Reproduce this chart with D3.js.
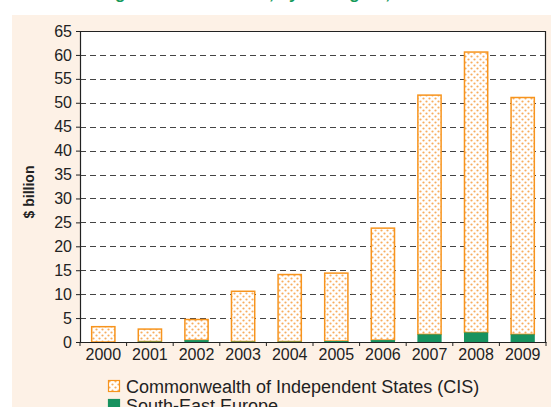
<!DOCTYPE html>
<html>
<head>
<meta charset="utf-8">
<script src="https://cdn.jsdelivr.net/npm/d3@7"></script>
<style>
  body { margin: 0; background: #fff; }
  svg { display: block; font-family: "Liberation Sans", Arial, sans-serif; }
</style>
</head>
<body>
<div id="chart"></div>
<script>
// data ($ billion)
const years = ["2000", "2001", "2002", "2003", "2004", "2005", "2006", "2007", "2008", "2009"];
const seeValues = [0.0, 0.1, 0.4, 0.1, 0.1, 0.2, 0.4, 1.6, 2.0, 1.6];       // South-East Europe
const cisValues = [3.2, 2.6, 4.3, 10.5, 14.0, 14.2, 23.4, 50.0, 58.6, 49.5]; // CIS, stacked on top
const yTicks = [0, 5, 10, 15, 20, 25, 30, 35, 40, 45, 50, 55, 60, 65];
const seriesNames = ["Commonwealth of Independent States (CIS)", "South-East Europe"];

const W = 551, H = 407;
const margin = {top: 31, right: 5, bottom: 65, left: 80};
const width = W - margin.left - margin.right;
const height = H - margin.top - margin.bottom;

const orange = "#f7941d";
const green = "#17925f";

const svg = d3.select("#chart").append("svg")
    .attr("width", W)
    .attr("height", H);

// pattern for CIS bars
const defs = svg.append("defs");
const pat = defs.append("pattern")
    .attr("id", "dots")
    .attr("patternUnits", "userSpaceOnUse")
    .attr("width", 6)
    .attr("height", 6);
pat.append("rect").attr("width", 6).attr("height", 6).attr("fill", "#fff");
pat.append("circle").attr("cx", 1.5).attr("cy", 1.5).attr("r", 1.1).attr("fill", "#f8ad5e");
pat.append("circle").attr("cx", 4.5).attr("cy", 4.5).attr("r", 1.1).attr("fill", "#f8ad5e");

// peach panel
svg.append("rect")
    .attr("x", 12).attr("y", 15)
    .attr("width", W - 12).attr("height", H - 15)
    .attr("fill", "#fdf1e6");

// title, almost entirely above the visible area (as in the source crop)
svg.append("text")
    .attr("x", 100).attr("y", -1)
    .style("fill", "#149a5a")
    .style("font-size", "17px")
    .style("font-weight", "bold")
    .text("Figure B. FDI inflows, by subregion, 2000–2009");

const g = svg.append("g")
    .attr("transform", `translate(${margin.left},${margin.top})`);

const x = d3.scaleBand()
    .domain(years)
    .range([0, width])
    .paddingInner(0.48)
    .paddingOuter(0.24);

const y = d3.scaleLinear()
    .domain([0, 65])
    .range([height, 0]);

// plot background
g.append("rect")
    .attr("width", width).attr("height", height)
    .attr("fill", "#fff");

// dashed gridlines
g.append("g")
    .selectAll("line")
    .data(yTicks.filter(d => d > 0 && d < 65))
    .join("line")
    .attr("x1", 0).attr("x2", width)
    .attr("y1", d => Math.round(y(d)) + 0.5)
    .attr("y2", d => Math.round(y(d)) + 0.5)
    .attr("stroke", "#444")
    .attr("stroke-width", 1.2)
    .attr("stroke-dasharray", "6,4");

// stacked bars
const stackData = years.map((yr, i) => ({year: yr, see: seeValues[i], cis: cisValues[i]}));

g.append("g")
    .selectAll("rect")
    .data(stackData)
    .join("rect")
    .attr("x", d => x(d.year) + 0.5)
    .attr("y", d => y(d.see + d.cis))
    .attr("width", x.bandwidth() - 1)
    .attr("height", d => y(d.see) - y(d.see + d.cis))
    .attr("fill", "url(#dots)")
    .attr("stroke", orange)
    .attr("stroke-width", 1.5);

g.append("g")
    .selectAll("rect")
    .data(stackData)
    .join("rect")
    .attr("x", d => x(d.year))
    .attr("y", d => y(d.see))
    .attr("width", x.bandwidth())
    .attr("height", d => y(0) - y(d.see))
    .attr("fill", green);

// top and right border
g.append("path")
    .attr("d", `M0,0.5H${width - 0.5}V${height}`)
    .attr("fill", "none")
    .attr("stroke", "#222")
    .attr("stroke-width", 1.2);

// axes
const yAxis = g.append("g")
    .call(d3.axisLeft(y).tickValues(yTicks).tickSize(4).tickPadding(4));
yAxis.select(".domain").attr("stroke", "#222").attr("stroke-width", 1.2);
yAxis.selectAll(".tick line").attr("stroke", "#222");
yAxis.selectAll("text")
    .style("font-size", "16px")
    .style("fill", "#222");

// bottom axis: ticks on the category boundaries
const bounds = d3.range(years.length + 1).map(i => i * width / years.length);
const xAxis = g.append("g")
    .attr("transform", `translate(0,${height})`)
    .call(d3.axisBottom(x).tickSize(0).tickPadding(7));
xAxis.select(".domain").attr("stroke", "#222").attr("stroke-width", 1.2);
xAxis.selectAll("text")
    .style("font-size", "16px")
    .style("fill", "#222");
xAxis.selectAll(".bound")
    .data(bounds)
    .join("line")
    .attr("class", "bound")
    .attr("x1", d => d).attr("x2", d => d)
    .attr("y1", 0).attr("y2", 4)
    .attr("stroke", "#222");

// y-axis title
svg.append("text")
    .attr("transform", "translate(34,192) rotate(-90)")
    .attr("text-anchor", "middle")
    .style("font-size", "14px")
    .style("font-weight", "bold")
    .style("fill", "#222")
    .text("$ billion");

// legend (second row runs off the bottom edge, as in the source)
const legend = svg.append("g").attr("transform", "translate(108,380)");
const items = legend.selectAll("g")
    .data(seriesNames)
    .join("g")
    .attr("transform", (d, i) => `translate(0,${i * 19})`);
items.append("rect")
    .attr("x", 0.5).attr("y", 0.5)
    .attr("width", 11).attr("height", 11)
    .attr("fill", (d, i) => i === 0 ? "url(#dots)" : green)
    .attr("stroke", (d, i) => i === 0 ? orange : green)
    .attr("stroke-width", 1.2);
items.append("text")
    .attr("x", 18).attr("y", 13)
    .style("font-size", "18px")
    .style("fill", "#222")
    .text(d => d);
</script>
</body>
</html>
